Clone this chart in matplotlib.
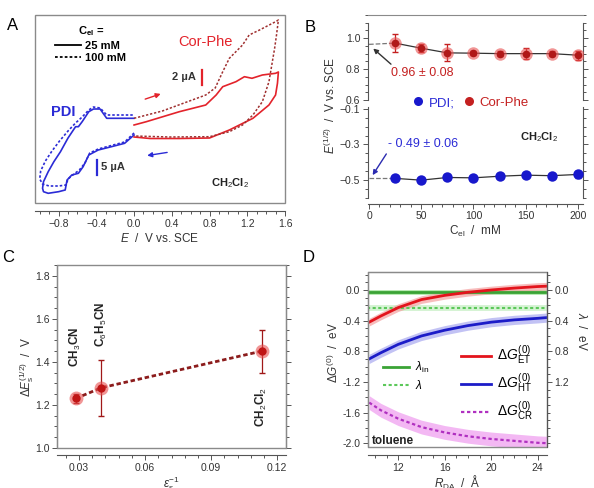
import numpy as np
import matplotlib.pyplot as plt
from matplotlib.patches import Rectangle
from matplotlib.lines import Line2D
from matplotlib.ticker import MultipleLocator

plt.rcParams['font.family'] = ['Liberation Sans', 'DejaVu Sans']
plt.rcParams['mathtext.fontset'] = 'custom'
plt.rcParams['mathtext.rm'] = 'Liberation Sans'
plt.rcParams['mathtext.it'] = 'Liberation Sans:italic'
plt.rcParams['mathtext.bf'] = 'Liberation Sans:bold'
plt.rcParams['font.size'] = 8

#%% data
# A: cyclic voltammograms (E in V vs SCE, current in arbitrary units)
pdi25_E = [0.0, -0.10, -0.24, -0.38, -0.48, -0.54, -0.59, -0.66, -0.71, -0.73, -0.80, -0.91, -0.96,
           -0.97, -0.96, -0.91, -0.85, -0.78, -0.70, -0.62, -0.59, -0.55, -0.48, -0.43, -0.36, -0.29, -0.15, 0.0]
pdi25_I = [68, 59.7, 56.3, 53, 48, 36.3, 29.7, 28, 23, 13, 11.3, 9.7, 11.3,
           14.7, 21.3, 31.3, 41.3, 51.3, 65, 76.3, 76.3, 81.3, 91.3, 94, 94, 84.7, 84.7, 84.7]
pdi100_E = [0.0, -0.10, -0.24, -0.38, -0.47, -0.52, -0.58, -0.65, -0.70, -0.72, -0.80, -0.90, -0.97,
            -1.0, -0.99, -0.94, -0.87, -0.79, -0.70, -0.62, -0.55, -0.48, -0.43, -0.36, -0.29, -0.15, 0.0]
pdi100_I = [70, 61, 57.5, 54, 50, 40, 33, 28, 24, 18, 17, 17, 19,
            24, 32, 42, 52, 62, 72, 80, 86, 93, 96, 95, 88, 88, 88]
cor25_E = [0.0, 0.13, 0.48, 0.76, 0.87, 0.94, 1.08, 1.17, 1.25, 1.36, 1.50, 1.53,
           1.52, 1.50, 1.43, 1.26, 1.01, 0.80, 0.48, 0.17, 0.0]
cor25_I = [78, 81.3, 91.3, 98, 108, 116.3, 121.3, 126.3, 124.7, 128, 129.7, 131,
           119.7, 108, 98, 84.7, 73, 65, 64.5, 64.5, 66]
cor100_E = [0.0, 0.30, 0.76, 0.86, 0.94, 1.01, 1.15, 1.22, 1.33, 1.50, 1.53,
            1.51, 1.49, 1.43, 1.36, 1.26, 1.15, 1.01, 0.80, 0.38, 0.0]
cor100_I = [84.7, 92, 108, 115, 131.3, 144.7, 158, 168, 173, 181.3, 183,
            168, 154.7, 121.3, 101.3, 88, 78, 71.3, 66.3, 66, 67]

# B: half-wave potentials vs electrolyte concentration
cel = [25, 50, 75, 100, 125, 150, 175, 200]
cor_E = [0.968, 0.935, 0.905, 0.903, 0.900, 0.900, 0.900, 0.890]
cor_err = [0.06, 0.025, 0.055, 0.015, 0.015, 0.035, 0.015, 0.03]
pdi_E = [-0.490, -0.500, -0.485, -0.487, -0.478, -0.472, -0.475, -0.468]
pdi_err = [0.012, 0.01, 0.01, 0.01, 0.01, 0.01, 0.01, 0.02]
cor_E0 = 0.96
pdi_E0 = -0.49

# C: potential difference vs inverse dielectric constant
eps_inv = [0.0285, 0.0402, 0.113]
dE = [1.23, 1.28, 1.45]
dE_err = [0.02, 0.13, 0.10]
solvents = ['CH$_3$CN', 'C$_6$H$_5$CN', 'CH$_2$Cl$_2$']

# D: driving forces vs donor-acceptor distance (toluene)
R_da = [9.5, 10.5, 12, 14, 16, 18, 20, 22, 24, 24.8]
dG_ET = [-0.42, -0.34, -0.23, -0.125, -0.07, -0.03, 0.0, 0.025, 0.045, 0.05]
dG_HT = [-0.90, -0.82, -0.71, -0.60, -0.525, -0.465, -0.42, -0.39, -0.37, -0.36]
dG_CR = [-1.47, -1.57, -1.68, -1.79, -1.86, -1.91, -1.945, -1.97, -1.995, -2.0]
lam_in = -0.03
lam_tot = -0.24

#%% helpers
W, H = 594, 488
fig = plt.figure(figsize=(W / 100, H / 100), dpi=100)
axc = '#555555'
red, blue = '#e3232b', '#2b2bd6'


def box(x0, y0, x1, y1):
    return [x0 / W, 1 - y1 / H, (x1 - x0) / W, (y1 - y0) / H]


def style(ax, sides):
    for s in ['left', 'right', 'top', 'bottom']:
        ax.spines[s].set_visible(s in sides)
        ax.spines[s].set_color(axc)
        ax.spines[s].set_linewidth(0.8)
    ax.tick_params(which='both', direction='out', color=axc, width=0.7,
                   labelsize=7.5, labelcolor='#333333', pad=2)
    ax.tick_params(which='major', length=3.5)
    ax.tick_params(which='minor', length=2)


def frame(ax):
    ax.add_patch(Rectangle((0, 0), 1, 1, transform=ax.transAxes, fill=False,
                           ec='#8a8a8a', lw=1.0, clip_on=False, zorder=6))


#%% Panel A
axA = fig.add_axes(box(35, 15, 285, 203))
style(axA, ['bottom'])
frame(axA)
axA.spines['bottom'].set_position(('outward', 6))
axA.plot(pdi25_E, pdi25_I, color=blue, lw=1.2)
axA.plot(pdi100_E, pdi100_I, color=blue, lw=1.2, ls=(0, (1.5, 1.2)))
axA.plot(cor25_E, cor25_I, color=red, lw=1.2)
axA.plot(cor100_E, cor100_I, color='#a03030', lw=1.1, ls=(0, (1.5, 1.2)))
axA.set_xlim(-1.05, 1.6)
axA.set_ylim(0, 188)
axA.set_yticks([])
axA.set_xticks([-0.8, -0.4, 0.0, 0.4, 0.8, 1.2, 1.6])
axA.xaxis.set_minor_locator(MultipleLocator(0.1))
axA.set_xlabel('$E$  /  V vs. SCE', fontsize=8.5, color='#333333', labelpad=2)

axA.annotate('', xy=(0.31, 110), xytext=(0.09, 103),
             arrowprops=dict(arrowstyle='-|>', color=red, lw=1, mutation_scale=7))
axA.annotate('', xy=(0.11, 47), xytext=(0.38, 51),
             arrowprops=dict(arrowstyle='-|>', color=blue, lw=1, mutation_scale=7))
axA.plot([0.715, 0.715], [118, 133], color=red, lw=1.6)
axA.text(0.66, 125.5, '2 µA', ha='right', va='center', fontsize=8, fontweight='bold', color='#333333')
axA.plot([-0.39, -0.39], [28, 43], color=blue, lw=1.6)
axA.text(-0.35, 35.5, '5 µA', ha='left', va='center', fontsize=8, fontweight='bold', color='#333333')
axA.text(0.76, 161, 'Cor-Phe', ha='center', va='center', fontsize=10.5, color=red)
axA.text(-0.75, 91, 'PDI', ha='center', va='center', fontsize=10.5, fontweight='bold', color=blue)
axA.text(1.02, 20, 'CH$_2$Cl$_2$', ha='center', va='center', fontsize=8, fontweight='bold', color='#222222')
handles = [Line2D([], [], color='k', lw=1.3), Line2D([], [], color='k', lw=1.3, ls=(0, (1.5, 1.2)))]
legA = axA.legend(handles, ['25 mM', '100 mM'], title=r'$\mathbf{C_{el}}$ =', loc='upper left',
                  bbox_to_anchor=(0.05, 0.99), frameon=False, fontsize=8, handlelength=2.3,
                  handletextpad=0.4, labelspacing=0.2, borderpad=0.2)
legA.get_title().set_fontsize(8)
legA.get_title().set_fontweight('bold')
for t in legA.get_texts():
    t.set_fontweight('bold')
fig.text(7 / W, 1 - 25 / H, 'A', fontsize=12, va='center', ha='left')

#%% Panel B
axBu = fig.add_axes(box(368, 15, 583, 100))
axBl = fig.add_axes(box(368, 107, 583, 198))
style(axBu, ['left', 'right', 'top'])
style(axBl, ['left', 'right', 'bottom'])
axBu.spines['top'].set_color('#8a8a8a')
axBu.spines['left'].set_bounds(0.6, 1.1)
axBu.spines['right'].set_bounds(0.6, 1.1)
axBl.spines['bottom'].set_position(('outward', 4))
for ax in (axBu, axBl):
    ax.set_xlim(-1, 205)
    ax.tick_params(which='both', right=True)
    ax.xaxis.set_minor_locator(MultipleLocator(10))
    ax.yaxis.set_minor_locator(MultipleLocator(0.05))
axBu.set_ylim(0.6, 1.15)
axBu.set_yticks([0.6, 0.8, 1.0])
axBu.tick_params(which='both', bottom=False, labelbottom=False, top=False)
axBl.set_ylim(-0.6, -0.09)
axBl.set_yticks([-0.5, -0.3, -0.1])
axBl.set_xticks([0, 50, 100, 150, 200])

axBu.plot([0, cel[0]], [cor_E0, cor_E[0]], color='#777777', lw=0.9, ls='--')
axBu.plot(cel, cor_E, color='#333333', lw=0.9, zorder=2)
axBu.errorbar(cel, cor_E, yerr=cor_err, fmt='none', ecolor='#c42020', elinewidth=0.9, capsize=2, zorder=3)
axBu.plot(cel, cor_E, 'o', ms=9, color='#e85050', alpha=0.6, mec='none', zorder=4)
axBu.plot(cel, cor_E, 'o', ms=5.5, color='#b01818', mec='none', zorder=5)
axBl.plot([0, cel[0]], [pdi_E0, pdi_E[0]], color='#777777', lw=0.9, ls='--')
axBl.plot(cel, pdi_E, color='#333333', lw=0.9, zorder=2)
axBl.errorbar(cel, pdi_E, yerr=pdi_err, fmt='none', ecolor=blue, elinewidth=0.9, capsize=2, zorder=3)
axBl.plot(cel, pdi_E, 'o', ms=7.5, color='#1818cc', mec='none', zorder=4)

axBu.annotate('', xy=(2, 0.945), xytext=(23, 0.82),
              arrowprops=dict(arrowstyle='-|>', color='#333333', lw=1, mutation_scale=7))
axBu.text(21, 0.775, '0.96 ± 0.08', ha='left', va='center', fontsize=9, color='#c42020')
axBl.annotate('', xy=(2, -0.485), xytext=(18, -0.34),
              arrowprops=dict(arrowstyle='-|>', color='#2b2bb0', lw=1, mutation_scale=7))
axBl.text(18, -0.30, '- 0.49 ± 0.06', ha='left', va='center', fontsize=9, color=blue)
axBl.text(163, -0.26, 'CH$_2$Cl$_2$', ha='center', va='center', fontsize=8, fontweight='bold', color='#222222')
bh = [Line2D([], [], ls='none', marker='o', ms=6.5, color='#1818cc', mec='none'),
      Line2D([], [], ls='none', marker='o', ms=6.5, color='#c42020', mec='none')]
legB = fig.legend(bh, ['PDI;', 'Cor-Phe'], loc='center', bbox_to_anchor=(470 / W, 1 - 103 / H),
                  ncol=2, frameon=False, fontsize=9.5, handletextpad=0.3, columnspacing=0.6,
                  handlelength=1.0, borderpad=0)
legB.get_texts()[0].set_color(blue)
legB.get_texts()[1].set_color('#c42020')
axBl.set_xlabel('C$_{\\rm el}$  /  mM', fontsize=8.5, color='#333333', labelpad=2)
fig.text(330 / W, 1 - 105 / H, '$E^{(1/2)}$  /  V vs. SCE', rotation=90, ha='center', va='center',
         fontsize=8.5, color='#333333')
fig.text(305 / W, 1 - 27 / H, 'B', fontsize=12, va='center', ha='left')

#%% Panel C
axC = fig.add_axes(box(57, 265, 286, 448))
style(axC, ['left', 'bottom', 'right'])
frame(axC)
axC.spines['bottom'].set_position(('outward', 5))
axC.spines['left'].set_bounds(1.0, 1.85)
axC.tick_params(which='both', right=True)
axC.set_xlim(0.02, 0.124)
axC.set_ylim(1.0, 1.85)
axC.set_xticks([0.03, 0.06, 0.09, 0.12])
axC.set_yticks([1.0, 1.2, 1.4, 1.6, 1.8])
axC.xaxis.set_minor_locator(MultipleLocator(0.006))
axC.yaxis.set_minor_locator(MultipleLocator(0.05))
axC.plot(eps_inv, dE, color='#8c1c1c', lw=2, ls=(0, (1.6, 1.0)), zorder=2)
axC.errorbar(eps_inv, dE, yerr=dE_err, fmt='none', ecolor='#a01818', elinewidth=0.9, capsize=2.5, zorder=3)
axC.plot(eps_inv, dE, 'o', ms=10, color='#e85050', alpha=0.6, mec='none', zorder=4)
axC.plot(eps_inv, dE, 'o', ms=6, color='#c01515', mec='none', zorder=5)
label_y = [1.47, 1.575, 1.19]
for x, y, s in zip(eps_inv, label_y, solvents):
    axC.text(x, y, s, rotation=90, ha='center', va='center', fontsize=8.5, fontweight='bold', color='#222222')
axC.set_xlabel('$\\varepsilon_{\\rm s}^{-1}$', fontsize=8.5, color='#333333', labelpad=1)
fig.text(27 / W, 1 - 367 / H, '$\\Delta E_{\\rm s}^{(1/2)}$  /  V', rotation=90, ha='center', va='center',
         fontsize=8.5, color='#333333')
fig.text(2 / W, 1 - 258 / H, 'C', fontsize=12, va='center', ha='left')

#%% Panel D
axD = fig.add_axes(box(368, 272, 547, 447))
style(axD, ['left', 'bottom', 'top'])
frame(axD)
axD.spines['top'].set_color('#8a8a8a')
axD.spines['bottom'].set_position(('outward', 6))
axD.set_xlim(9.4, 24.8)
axD.set_ylim(-2.05, 0.235)
axD.set_xticks([12, 16, 20, 24])
axD.set_yticks([-2.0, -1.6, -1.2, -0.8, -0.4, 0.0])
axD.set_yticklabels(['-2.0', '-1.6', '-1.2', '-0.8', '-0.4', '0.0'])
axD.xaxis.set_minor_locator(MultipleLocator(1))
axD.yaxis.set_minor_locator(MultipleLocator(0.1))

Rx = np.array(R_da)
green, lgreen = '#3aa335', '#a6e6a0'
axD.fill_between([Rx[0] - 0.2, Rx[-1]], lam_in - 0.035, lam_in + 0.035, color=lgreen, alpha=0.8, lw=0)
axD.fill_between([Rx[0] - 0.2, Rx[-1]], lam_tot - 0.04, lam_tot + 0.04, color=lgreen, alpha=0.45, lw=0)
axD.fill_between(Rx, np.array(dG_ET) - 0.05, np.array(dG_ET) + 0.05, color='#f4a0a0', alpha=0.7, lw=0)
axD.fill_between(Rx, np.array(dG_HT) - 0.06, np.array(dG_HT) + 0.06, color='#a8a8f0', alpha=0.7, lw=0)
axD.fill_between(Rx, np.array(dG_CR) - 0.09, np.array(dG_CR) + 0.09, color='#f0a0f0', alpha=0.75, lw=0)
l_in, = axD.plot([Rx[0] - 0.2, Rx[-1]], [lam_in, lam_in], color=green, lw=2)
l_tot, = axD.plot([Rx[0] - 0.2, Rx[-1]], [lam_tot, lam_tot], color='#5cc85a', lw=1.5, ls=(0, (1.5, 1.2)))
l_et, = axD.plot(Rx, dG_ET, color='#e3141c', lw=2)
l_ht, = axD.plot(Rx, dG_HT, color='#1c1cc8', lw=2)
l_cr, = axD.plot(Rx, dG_CR, color='#b030c0', lw=1.6, ls=(0, (1.5, 1.2)))

legD1 = axD.legend([l_in, l_tot], ['$\\lambda_{\\rm in}$', '$\\lambda$'], loc='upper left',
                   bbox_to_anchor=(0.05, 0.53), frameon=False, fontsize=8.5, handlelength=2.2,
                   handletextpad=0.5, labelspacing=0.3, borderpad=0)
axD.add_artist(legD1)
axD.legend([l_et, l_ht, l_cr], ['$\\Delta G_{\\rm ET}^{(0)}$', '$\\Delta G_{\\rm HT}^{(0)}$',
                                '$\\Delta G_{\\rm CR}^{(0)}$'],
           loc='upper left', bbox_to_anchor=(0.48, 0.63), frameon=False, fontsize=10,
           handlelength=2.2, handletextpad=0.4, labelspacing=0.35, borderpad=0)
axD.text(9.75, -1.975, 'toluene', ha='left', va='center', fontsize=8.5, fontweight='bold', color='#222222')

axD2 = axD.twinx()
style(axD2, ['right'])
axD2.set_ylim(2.05, -0.235)
axD2.set_yticks([0.0, 0.4, 0.8, 1.2])
axD2.yaxis.set_minor_locator(MultipleLocator(0.1))
axD2.set_ylabel('$\\lambda$  /  eV', rotation=270, fontsize=8.5, color='#333333', labelpad=9)
axD2.yaxis.set_label_coords(1.23, 0.66)
axD.set_xlabel('$R_{\\rm DA}$  /  Å', fontsize=8.5, color='#333333', labelpad=1)
fig.text(333 / W, 1 - 353 / H, '$\\Delta G^{(0)}$  /  eV', rotation=90, ha='center', va='center',
         fontsize=8.5, color='#333333')
fig.text(303 / W, 1 - 258 / H, 'D', fontsize=12, va='center', ha='left')

fig.savefig('out.png', dpi=100)
